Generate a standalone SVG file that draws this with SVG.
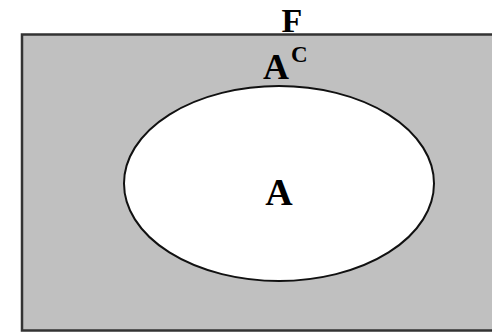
<svg xmlns="http://www.w3.org/2000/svg" width="492" height="335" viewBox="0 0 492 335">
<style>
.t{font-family:"Liberation Serif","Times New Roman",serif;font-weight:bold;fill:#000}
</style>
<rect x="0" y="0" width="492" height="335" fill="#fff"/>
<g id="universe">
<rect x="22" y="34.5" width="480" height="296" fill="#c0c0c0" stroke="#333" stroke-width="2.5"/>
<text class="t" x="292" y="32" font-size="34" text-anchor="middle">F</text>
<text class="t" x="276" y="79" font-size="36" text-anchor="middle">A</text>
<text class="t" x="291" y="62" font-size="23">C</text>
</g>
<g id="setA">
<ellipse cx="279" cy="183.5" rx="155" ry="97.5" fill="#fff" stroke="#111" stroke-width="2"/>
<text class="t" x="279" y="205" font-size="38" text-anchor="middle">A</text>
</g>
<g id="connectors"></g>
</svg>
